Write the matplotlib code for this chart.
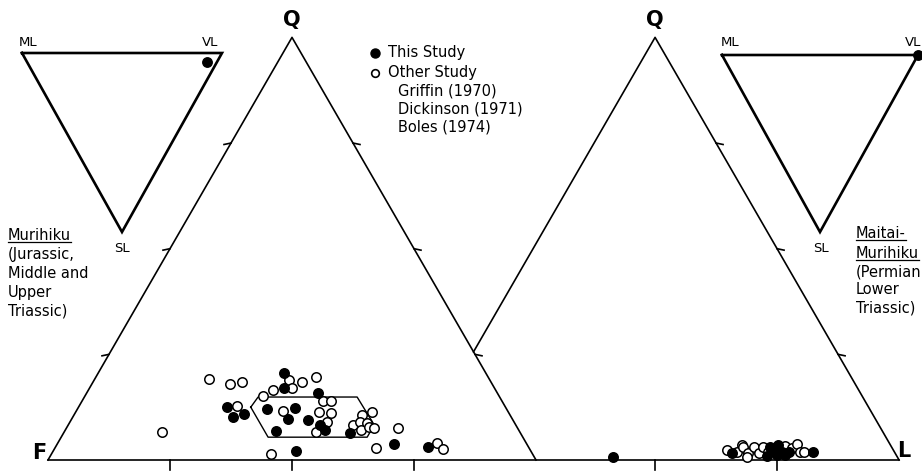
import matplotlib
matplotlib.use('Agg')
import matplotlib.pyplot as plt
import numpy as np
from matplotlib.lines import Line2D

# QFL compositions in percent (Q = quartz, L = lithics, F = 100 - Q - L)
# Murihiku, this study (filled)
muri_this_q = [20.6, 17.0, 15.8, 12.5, 10.9, 10.2, 12.1, 12.3, 9.7, 9.5, 8.3, 7.1, 6.9, 6.4, 2.1, 3.8, 3.1]
muri_this_l = [38.1, 39.9, 47.4, 30.4, 34.7, 32.8, 38.8, 44.5, 44.3, 48.5, 51.6, 53.2, 43.3, 58.7, 49.8, 69.0, 76.3]
# Murihiku, other studies (open)
muri_other_q = [19.1, 18.0, 18.4, 18.9, 18.4, 19.6, 17.0, 16.5, 15.1, 13.9, 13.9, 12.8, 11.6, 11.3, 11.1,
                9.0, 6.6, 8.3, 10.6, 11.3, 9.0, 8.7, 7.1, 7.8, 7.6, 7.6, 6.6, 1.4, 2.8, 4.0, 2.6]
muri_other_l = [23.4, 28.3, 30.6, 39.9, 42.8, 45.1, 41.5, 37.9, 36.5, 49.4, 51.0, 32.3, 42.4, 49.9, 52.4,
                52.7, 51.6, 58.4, 59.0, 60.8, 59.4, 61.0, 60.6, 61.9, 63.0, 67.9, 20.1, 45.0, 65.8, 77.7, 79.6]
# outlined field
field_q = [12.5, 14.9, 14.9, 8.3, 5.4, 5.4]
field_l = [35.3, 35.6, 55.9, 62.7, 62.7, 42.4]

# Maitai-Murihiku, this study (filled)
mait_this_q = [0.7, 2.4, 3.5, 1.9, 1.2, 1.2, 1.7, 0.9, 1.9, 1.9, 3.1]
mait_this_l = [41.0, 73.0, 73.5, 75.1, 74.4, 76.0, 65.0, 72.5, 76.4, 81.4, 72.0]
# Maitai-Murihiku, other studies (open)
mait_other_q = [2.4, 3.5, 1.9, 3.1, 1.7, 3.1, 1.7, 3.1, 1.9, 3.3, 2.8, 3.8, 1.9, 1.9, 0.7]
mait_other_l = [63.6, 66.0, 65.8, 66.5, 68.2, 68.7, 70.5, 70.6, 72.2, 75.0, 76.7, 77.2, 78.8, 79.6, 68.5]

# lithic fragments (ML, VL, SL) in percent
muri_lith = [5, 90, 5]
mait_lith = [0, 100, 0]

legend_labels = ['This Study', 'Other Study']
legend_refs = ['Griffin (1970)', 'Dickinson (1971)', 'Boles (1974)']
muri_text = ['Murihiku', '(Jurassic,', 'Middle and', 'Upper', 'Triassic)']
mait_text = ['Maitai-', 'Murihiku', '(Permian', 'Lower', 'Triassic)']

W, H = 922, 474
S3 = np.sqrt(3) / 2
off_right = 0.744  # horizontal shift of the second triangle


def qfl_xy(q, l, off=0.0):
    q = np.asarray(q) / 100.0
    l = np.asarray(l) / 100.0
    return off + l + q / 2, q * S3


def px(x, y):
    # pixel position on the page -> data coords
    return (x - 48) / 488.0, (460 - y) / 488.0


def fpx(x, y):
    return x / W, 1 - y / H


plt.rcParams['font.family'] = 'DejaVu Sans'
fig = plt.figure(figsize=(W / 100, H / 100), dpi=100)
ax = fig.add_axes([0, 0, 1, 1])
ax.set_xlim(px(0, 0)[0], px(W, 0)[0])
ax.set_ylim(px(0, H)[1], px(0, 0)[1])
ax.axis('off')

lw = 1.2
# base line shared by both triangles
ax.plot([0, 1 + off_right], [0, 0], color='black', lw=lw)
# left triangle
ax.plot([0, 0.5, 1], [0, S3, 0], color='black', lw=lw)
# right triangle: left edge stops at left triangle's right edge
v_cut = (1 - off_right) * S3
ax.plot([off_right + v_cut / np.sqrt(3), off_right + 0.5, off_right + 1],
        [v_cut, S3, 0], color='black', lw=lw)

# ticks
tk = 10 / 488.0
ts = 7 / 488.0
for f in [0.25, 0.5, 0.75]:
    ax.plot([f, f], [0, -tk], color='black', lw=lw)
    yv = f * S3
    ax.plot([f / 2, f / 2 - ts], [yv, yv - 0.003], color='black', lw=lw)
    ax.plot([1 - f / 2, 1 - f / 2 + ts], [yv, yv - 0.003], color='black', lw=lw)
    ax.plot([off_right + 1 - f / 2, off_right + 1 - f / 2 + ts], [yv, yv - 0.003], color='black', lw=lw)
for f in [0.5, 0.75]:
    ax.plot([off_right + f, off_right + f], [0, -tk], color='black', lw=lw)

ms = 6.8
mew = 1.1
# field outline
fx, fy = qfl_xy(field_q + field_q[:1], field_l + field_l[:1])
ax.plot(fx, fy, color='black', lw=1.0, zorder=2)

x, y = qfl_xy(muri_other_q, muri_other_l)
ax.plot(x, y, 'o', ms=ms, mfc='white', mec='black', mew=mew, zorder=3)
x, y = qfl_xy(muri_this_q, muri_this_l)
ax.plot(x, y, 'o', ms=ms, mfc='black', mec='black', mew=mew, zorder=4)
x, y = qfl_xy(mait_other_q, mait_other_l, off_right)
ax.plot(x, y, 'o', ms=ms, mfc='white', mec='black', mew=mew, zorder=3)
x, y = qfl_xy(mait_this_q, mait_this_l, off_right)
ax.plot(x, y, 'o', ms=ms, mfc='black', mec='black', mew=mew, zorder=4)

# small ML-VL-SL triangles
def small_tri(ml, vl, sl, comp):
    pts = np.array([px(*ml), px(*vl), px(*sl)])
    ax.plot(pts[[0, 1, 2, 0], 0], pts[[0, 1, 2, 0], 1], color='black', lw=1.9,
            solid_joinstyle='miter')
    w = np.asarray(comp, dtype=float) / 100.0
    p = w @ pts
    ax.plot(p[0], p[1], 'o', ms=ms, mfc='black', mec='black', zorder=5, clip_on=False)

small_tri((22, 53), (222, 53), (122, 232), muri_lith)
small_tri((722, 55), (918, 55), (820, 232), mait_lith)

# vertex labels
big = dict(fontsize=15, fontweight='bold', ha='center', va='center')
fig.text(*fpx(39, 453), 'F', **big)
fig.text(*fpx(292, 20), 'Q', **big)
fig.text(*fpx(655, 20), 'Q', **big)
fig.text(*fpx(904, 451), 'L', **big)

small = dict(fontsize=9.5, ha='center', va='center')
fig.text(*fpx(28, 43), 'ML', **small)
fig.text(*fpx(210, 43), 'VL', **small)
fig.text(*fpx(122, 248), 'SL', **small)
fig.text(*fpx(730, 43), 'ML', **small)
fig.text(*fpx(913, 43), 'VL', **small)
fig.text(*fpx(821, 248), 'SL', **small)

# legend
lx, ly = px(375, 53)
ax.plot(lx, ly, 'o', ms=6.5, mfc='black', mec='black')
lx, ly = px(375, 73)
ax.plot(lx, ly, 'o', ms=5.5, mfc='white', mec='black', mew=1.2)
leg = dict(fontsize=10.5, ha='left', va='center')
fig.text(*fpx(388, 53), legend_labels[0], **leg)
fig.text(*fpx(388, 73), legend_labels[1], **leg)
for i, r in enumerate(legend_refs):
    fig.text(*fpx(398, 91 + 18 * i), r, **leg)

# side notes
under = []
ys_l = [235, 254, 273, 292, 311]
ys_r = [233, 253, 272, 290, 308]
for i, t in enumerate(muri_text):
    tt = fig.text(*fpx(8, ys_l[i]), t, **leg)
    if i == 0:
        under.append(tt)
for i, t in enumerate(mait_text):
    tt = fig.text(*fpx(856, ys_r[i]), t, **leg)
    if i < 2:
        under.append(tt)

fig.canvas.draw()
r = fig.canvas.get_renderer()
for tt in under:
    bb = tt.get_window_extent(renderer=r)
    p0 = fig.transFigure.inverted().transform((bb.x0, bb.y0 + 1))
    p1 = fig.transFigure.inverted().transform((bb.x1, bb.y0 + 1))
    fig.add_artist(Line2D([p0[0], p1[0]], [p0[1], p1[1]], color='black', lw=0.9,
                          transform=fig.transFigure))

fig.savefig('out.png', dpi=100)
